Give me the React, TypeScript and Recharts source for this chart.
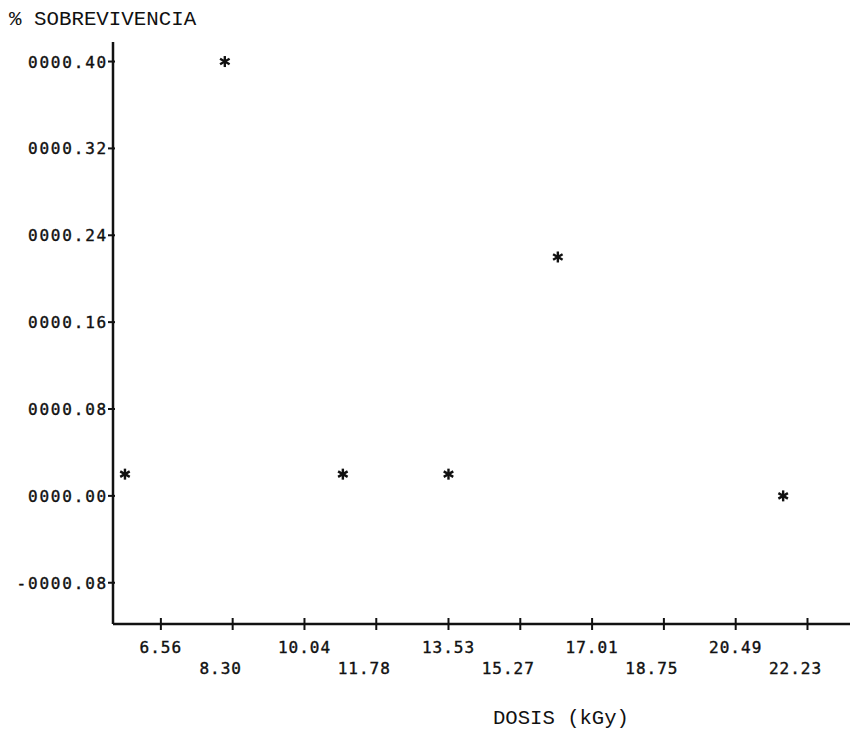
import { ScatterChart, Scatter, XAxis, YAxis } from 'recharts'

// dose (kGy) and survival (%)
const dosis = [5.69, 8.11, 10.97, 13.53, 16.18, 21.64]
const sobrevivencia = [0.02, 0.4, 0.02, 0.02, 0.22, 0.0]

const xTicks = [6.56, 8.3, 10.04, 11.78, 13.53, 15.27, 17.01, 18.75, 20.49, 22.23]
const yTicks = [-0.08, 0, 0.08, 0.16, 0.24, 0.32, 0.4]

const data = dosis.map((d, i) => ({ dosis: d, sob: sobrevivencia[i] }))

const INK = '#111'
const TICK_FONT = '"DejaVu Sans Mono", monospace'
const LABEL_FONT = '"Liberation Mono", "Courier New", monospace'

function fmtY(v: number) {
  return (v < 0 ? '-' : '') + Math.abs(v).toFixed(2).padStart(7, '0')
}

function XTick({ x, y, payload }: any) {
  const idx = xTicks.indexOf(payload.value)
  const second = idx % 2 === 1
  return (
    <g>
      <line x1={x} x2={x} y1={y - 6} y2={y + 6} stroke={INK} strokeWidth={2} />
      <text
        x={second ? x - 12 : x}
        y={second ? y + 50 : y + 29}
        textAnchor="middle"
        fontFamily={TICK_FONT}
        fontSize={16}
        letterSpacing={1}
        fill={INK}
        stroke={INK}
        strokeWidth={0.4}
      >
        {payload.value.toFixed(2)}
      </text>
    </g>
  )
}

function YTick({ x, y, payload }: any) {
  return (
    <g>
      <line x1={x - 5} x2={x + 2} y1={y} y2={y} stroke={INK} strokeWidth={2} />
      <text
        x={x - 5}
        y={y + 6}
        textAnchor="end"
        fontFamily={TICK_FONT}
        fontSize={16}
        letterSpacing={1.8}
        fill={INK}
        stroke={INK}
        strokeWidth={0.4}
      >
        {fmtY(payload.value)}
      </text>
    </g>
  )
}

function Star({ cx, cy }: any) {
  const r = 5.5
  const arms = [90, 30, 150].map(a => {
    const rad = (a * Math.PI) / 180
    return { dx: Math.cos(rad) * r, dy: Math.sin(rad) * r }
  })
  return (
    <g>
      {arms.map((a, i) => (
        <line
          key={i}
          x1={cx - a.dx}
          y1={cy - a.dy}
          x2={cx + a.dx}
          y2={cy + a.dy}
          stroke={INK}
          strokeWidth={2.4}
        />
      ))}
    </g>
  )
}

export default function App() {
  return (
    <div style={{ position: 'absolute', left: 0, top: 0, width: 856, height: 729, background: '#fff' }}>
      <ScatterChart width={856} height={729} margin={{ top: 42, right: 6, left: 0, bottom: 0 }}>
        <XAxis
          type="number"
          dataKey="dosis"
          domain={[5.4, 23.26]}
          ticks={xTicks}
          allowDataOverflow
          height={105}
          tickSize={0}
          tickMargin={0}
          tickLine={false}
          axisLine={{ stroke: INK, strokeWidth: 2.5 }}
          tick={<XTick />}
          interval={0}
        />
        <YAxis
          type="number"
          dataKey="sob"
          domain={[-0.118, 0.418]}
          ticks={yTicks}
          allowDataOverflow
          width={113}
          tickSize={0}
          tickMargin={0}
          tickLine={false}
          axisLine={{ stroke: INK, strokeWidth: 2.5 }}
          tick={<YTick />}
          interval={0}
        />
        <Scatter data={data} shape={<Star />} isAnimationActive={false} />
        <text x={9} y={25} fontFamily={LABEL_FONT} fontSize={20.8} fill={INK}>
          % SOBREVIVENCIA
        </text>
        <text x={493} y={724} fontFamily={LABEL_FONT} fontSize={20.6} fill={INK}>
          DOSIS (kGy)
        </text>
      </ScatterChart>
    </div>
  )
}
